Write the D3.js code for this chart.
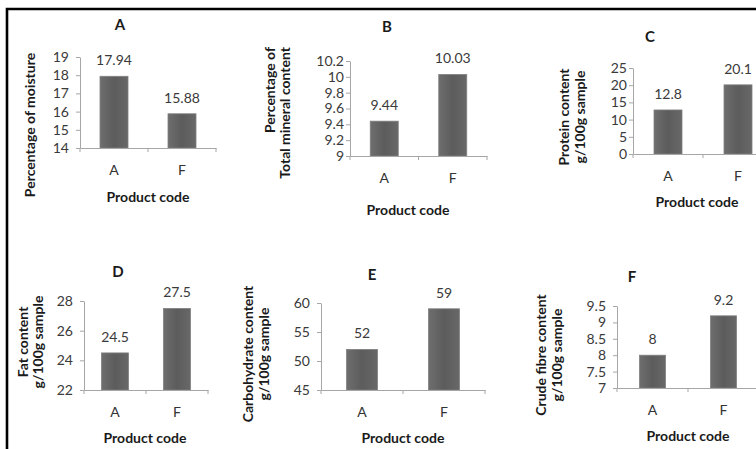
<!DOCTYPE html>
<html>
<head>
<meta charset="utf-8">
<script src="https://cdn.jsdelivr.net/npm/d3@7"></script>
<style>
    body { margin: 0; background: #fff; }
    svg text { font-family: Lato, "Open Sans", sans-serif; }
</style>
</head>
<body>
<svg id="figure" width="756" height="449"></svg>
<script>

//-------------------Données-----------------------------------------------------------

const categories = ["A", "F"];

const humidite = [17.94, 15.88];
const mineraux = [9.44, 10.03];
const proteines = [12.8, 20.1];
const lipides = [24.5, 27.5];
const glucides = [52, 59];
const fibres = [8, 9.2];

const ticksHumidite = [14, 15, 16, 17, 18, 19];
const ticksMineraux = [9, 9.2, 9.4, 9.6, 9.8, 10, 10.2];
const ticksProteines = [0, 5, 10, 15, 20, 25];
const ticksLipides = [22, 24, 26, 28];
const ticksGlucides = [45, 50, 55, 60];
const ticksFibres = [7, 7.5, 8, 8.5, 9, 9.5];

//-------------------Mise en page des six graphiques----------------------------------------

var panneaux = [
    {lettre: "A", valeurs: humidite, ticks: ticksHumidite, titreY: ["Percentage of moisture"],
     x0: 80, x1: 216, yBas: 148, yHaut: 57, pad: 7, barre: 28,
     lettreXY: [120, 25], codeXY: [148, 197], titreYX: [30], titreYc: 125},
    {lettre: "B", valeurs: mineraux, ticks: ticksMineraux, titreY: ["Percentage of", "Total mineral content"],
     x0: 350, x1: 487, yBas: 156, yHaut: 61, pad: 2, barre: 28,
     lettreXY: [387, 27], codeXY: [408, 210], titreYX: [270, 285], titreYfin: 47},
    {lettre: "C", valeurs: proteines, ticks: ticksProteines, titreY: ["Protein content", "g/100g sample"],
     x0: 633, x1: 773, yBas: 154, yHaut: 68, pad: 2, barre: 28,
     lettreXY: [650, 37], codeXY: [697, 202], titreYX: [564, 580], titreYc: 117},
    {lettre: "D", valeurs: lipides, ticks: ticksLipides, titreY: ["Fat content", "g/100g sample"],
     x0: 84, x1: 208, yBas: 390, yHaut: 301, pad: 7, barre: 27,
     lettreXY: [118, 272], codeXY: [145, 438], titreYX: [23, 38], titreYc: 342},
    {lettre: "E", valeurs: glucides, ticks: ticksGlucides, titreY: ["Carbohydrate content", "g/100g sample"],
     x0: 321, x1: 485, yBas: 390, yHaut: 303, pad: 7, barre: 31,
     lettreXY: [372, 275], codeXY: [403, 438], titreYX: [248, 264], titreYc: 354},
    {lettre: "F", valeurs: fibres, ticks: ticksFibres, titreY: ["Crude fibre content", "g/100g sample"],
     x0: 617, x1: 759, yBas: 388, yHaut: 306, pad: 7, barre: 26,
     lettreXY: [632, 277], codeXY: [688, 436], titreYX: [541, 557], titreYc: 355}
];

var svg = d3.select("#figure");

//-------------------Cadre noir (gauche et haut)----------------------------------------

svg.append("path")
    .attr("d", "M7,449 V9 H756")
    .attr("fill", "none")
    .attr("stroke", "#000")
    .attr("stroke-width", 2.6);

//-------------------Dégradé des barres----------------------------------------

var defs = svg.append("defs");
var degrade = defs.append("linearGradient")
    .attr("id", "degrade")
    .attr("x1", 0).attr("x2", 1).attr("y1", 0).attr("y2", 0);
degrade.append("stop").attr("offset", "0%").attr("stop-color", "#6e6e6e");
degrade.append("stop").attr("offset", "50%").attr("stop-color", "#5c5c5c");
degrade.append("stop").attr("offset", "100%").attr("stop-color", "#686868");

//-------------------Dessin d'un graphique en barres----------------------------------------

function dessinerPanneau(p) {
    var g = svg.append("g");

    var x = d3.scaleBand()
        .domain(categories)
        .range([p.x0, p.x1])
        .paddingInner(0)
        .paddingOuter(0);

    var y = d3.scaleLinear()
        .domain([p.ticks[0], p.ticks[p.ticks.length - 1]])
        .range([p.yBas, p.yHaut]);

    // axe vertical
    var axeY = g.append("g")
        .attr("transform", "translate(" + p.x0 + ",0)")
        .call(d3.axisLeft(y).tickValues(p.ticks).tickFormat(d => d).tickSize(4).tickSizeOuter(0).tickPadding(p.pad));
    axeY.select(".domain").attr("stroke", "#a6a6a6");
    axeY.selectAll(".tick line").attr("stroke", "#a6a6a6");
    axeY.selectAll("text")
        .attr("fill", "#3a3a3a")
        .style("font-size", "14px");

    // barres
    g.selectAll("rect")
        .data(p.valeurs)
        .enter()
        .append("rect")
        .attr("x", (d, i) => x(categories[i]) + x.bandwidth() / 2 - p.barre / 2)
        .attr("y", d => y(d))
        .attr("width", p.barre)
        .attr("height", d => p.yBas - y(d))
        .attr("fill", "url(#degrade)")
        .attr("stroke", "#808080")
        .attr("stroke-width", 0.8);

    // étiquettes de valeur
    g.selectAll(".valeur")
        .data(p.valeurs)
        .enter()
        .append("text")
        .attr("class", "valeur")
        .attr("x", (d, i) => x(categories[i]) + x.bandwidth() / 2)
        .attr("y", d => y(d) - 16)
        .attr("dy", "0.35em")
        .attr("text-anchor", "middle")
        .attr("fill", "#3a3a3a")
        .style("font-size", "14px")
        .text(d => d);

    // axe horizontal, graduations entre catégories
    var axeX = g.append("g")
        .attr("transform", "translate(0," + p.yBas + ")")
        .call(d3.axisBottom(x).tickSize(0).tickSizeOuter(0).tickPadding(0));
    axeX.select(".domain").attr("stroke", "#a6a6a6");
    axeX.selectAll("text")
        .attr("y", 22)
        .attr("dy", "0.35em")
        .attr("fill", "#333")
        .style("font-size", "14px");

    var limites = categories.map(c => x(c)).concat([p.x1]);
    axeX.selectAll(".separation")
        .data(limites)
        .enter()
        .append("line")
        .attr("class", "separation")
        .attr("x1", d => d)
        .attr("x2", d => d)
        .attr("y1", 0)
        .attr("y2", 4)
        .attr("stroke", "#a6a6a6");

    // lettre du graphique
    g.append("text")
        .attr("x", p.lettreXY[0])
        .attr("y", p.lettreXY[1])
        .attr("dy", "0.35em")
        .attr("text-anchor", "middle")
        .attr("font-weight", "bold")
        .attr("fill", "#1a1a1a")
        .style("font-size", "15px")
        .text(p.lettre);

    // titre de l'axe X
    g.append("text")
        .attr("x", p.codeXY[0])
        .attr("y", p.codeXY[1])
        .attr("dy", "0.35em")
        .attr("text-anchor", "middle")
        .attr("font-weight", "bold")
        .attr("fill", "#1a1a1a")
        .style("font-size", "14px")
        .text("Product code");

    // titre de l'axe Y (une ou deux lignes, tourné)
    p.titreY.forEach(function(ligne, i) {
        var cx = p.titreYX[i];
        var cy = p.titreYfin !== undefined ? p.titreYfin : p.titreYc;
        g.append("text")
            .attr("transform", "translate(" + cx + "," + cy + ") rotate(-90)")
            .attr("dy", "0.35em")
            .attr("text-anchor", p.titreYfin !== undefined ? "end" : "middle")
            .attr("font-weight", "bold")
            .attr("fill", "#1a1a1a")
            .style("font-size", "14px")
            .text(ligne);
    });
}

for (let p of panneaux) {
    dessinerPanneau(p);
}

</script>
</body>
</html>
